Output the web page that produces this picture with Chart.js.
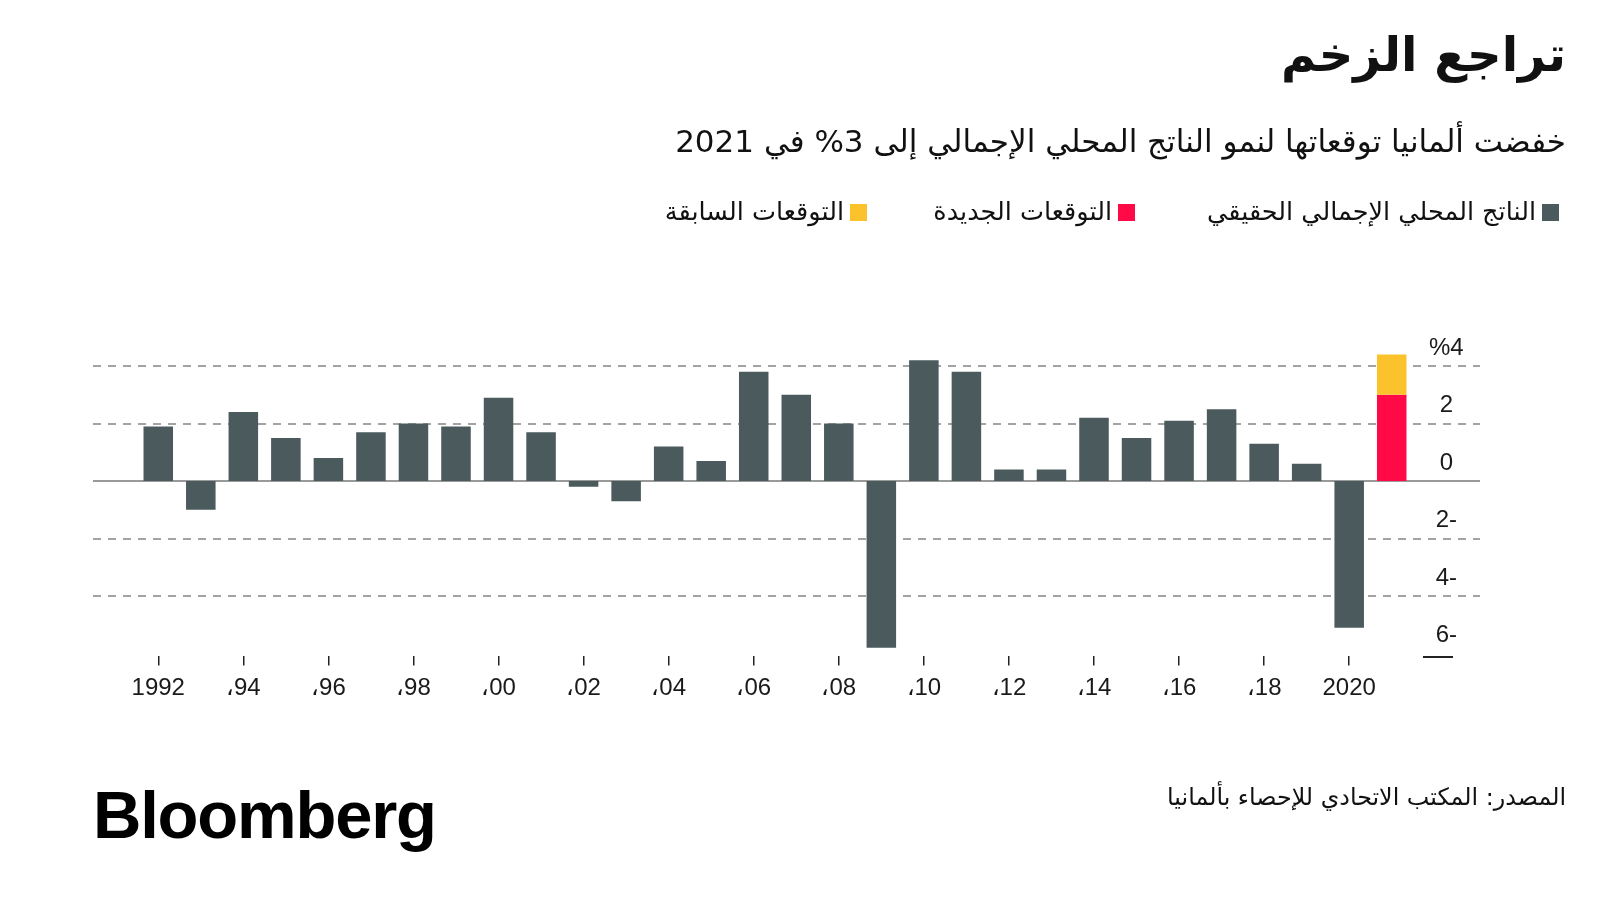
<!DOCTYPE html>
<html lang="ar">
<head>
<meta charset="utf-8">
<script src="https://cdn.jsdelivr.net/npm/chart.js@4.4.1/dist/chart.umd.min.js"></script>
<style>
  html, body { margin:0; padding:0; background:#ffffff; width:1600px; height:900px; overflow:hidden; }
  #wrap { position:absolute; left:0; top:0; width:1600px; height:900px; }
  canvas { position:absolute; left:0; top:0; }
  .ar { position:absolute; direction:rtl; white-space:nowrap; color:#111;
        font-family:"DejaVu Sans","Noto Sans",sans-serif; line-height:1; }
  #title { right:34px; top:30px; font-size:48px; font-weight:bold; }
  #subtitle { right:34px; top:126px; font-size:31px; }
  .leg { position:absolute; top:202px; height:20px; display:flex; flex-direction:row-reverse; align-items:center; }
  .leg .sw { width:17px; height:17px; margin-left:6px; }
  .leg .tx { direction:rtl; white-space:nowrap; color:#111; font-family:"DejaVu Sans","Noto Sans",sans-serif; font-size:25.5px; line-height:1; }
  #source { right:34px; top:786px; font-size:23.8px; }
  #logo { position:absolute; left:93px; top:781px; font-family:"Liberation Sans","Arial",sans-serif;
          font-weight:bold; font-size:67px; letter-spacing:-1.2px; color:#000; line-height:1; }
</style>
</head>
<body>
<div id="wrap">
  <canvas id="c" width="1600" height="900"></canvas>
  <div id="title" class="ar">تراجع الزخم</div>
  <div id="subtitle" class="ar">خفضت ألمانيا توقعاتها لنمو الناتج المحلي الإجمالي إلى 3% في 2021</div>
  <div id="legend"></div>
  <div id="source" class="ar">المصدر: المكتب الاتحادي للإحصاء بألمانيا</div>
  <div id="logo">Bloomberg</div>
</div>
<script>
// ---- Data ----
const years = ['1992','1993','1994','1995','1996','1997','1998','1999','2000','2001',
               '2002','2003','2004','2005','2006','2007','2008','2009','2010','2011',
               '2012','2013','2014','2015','2016','2017','2018','2019','2020','2021'];
const gdpGrowth = [1.9, -1.0, 2.4, 1.5, 0.8, 1.7, 2.0, 1.9, 2.9, 1.7,
                   -0.2, -0.7, 1.2, 0.7, 3.8, 3.0, 2.0, -5.8, 4.2, 3.8,
                   0.4, 0.4, 2.2, 1.5, 2.1, 2.5, 1.3, 0.6, -5.1, null];
const forecastYear = '2021';
const newForecast = 3.0;
const previousForecast = 4.4;
const xTickLabels = ['1992','','،94','','،96','','،98','','،00','',
                     '،02','','،04','','،06','','،08','','،10','',
                     '،12','','،14','','،16','','،18','','2020',''];
const yTickValues = [-6, -4, -2, 0, 2, 4];
const yTickLabels = ['6-', '4-', '2-', '0', '2', '%4'];
const gridValues = [-4, -2, 2, 4];
const seriesLabels = ['الناتج المحلي الإجمالي الحقيقي', 'التوقعات الجديدة', 'التوقعات السابقة'];
const seriesColors = ['#4b5a5d', '#ff0a47', '#fbc22b'];

// ---- Legend (HTML) ----
const legendRights = [41, 465, 733];
const legend = document.getElementById('legend');
seriesLabels.forEach((lab, i) => {
  const d = document.createElement('div');
  d.className = 'leg';
  d.style.right = legendRights[i] + 'px';
  d.innerHTML = '<div class="sw" style="background:' + seriesColors[i] + '"></div><div class="tx">' + lab + '</div>';
  legend.appendChild(d);
});

// ---- Plugins ----
const gridPlugin = {
  id: 'gridExt',
  beforeDatasetsDraw(chart) {
    const { ctx, chartArea } = chart;
    const y = chart.scales.y;
    const x0 = chartArea.left - 44, x1 = chartArea.right + 67;
    ctx.save();
    ctx.lineWidth = 2;
    ctx.strokeStyle = '#a3a3a3';
    ctx.setLineDash([8, 7]);
    gridValues.forEach(v => {
      const py = Math.round(y.getPixelForValue(v));
      ctx.beginPath(); ctx.moveTo(x0, py); ctx.lineTo(x1, py); ctx.stroke();
    });
    ctx.setLineDash([]);
    ctx.strokeStyle = '#9a9a9a';
    const pz = Math.round(y.getPixelForValue(0));
    ctx.beginPath(); ctx.moveTo(x0, pz); ctx.lineTo(x1, pz); ctx.stroke();
    ctx.restore();
  },
  afterDraw(chart) {
    const { ctx, chartArea } = chart;
    const y = chart.scales.y;
    const py = Math.round(y.getPixelForValue(yTickValues[0])) + 3;
    ctx.save();
    ctx.strokeStyle = '#222';
    ctx.lineWidth = 2;
    ctx.beginPath(); ctx.moveTo(chartArea.right + 10, py); ctx.lineTo(chartArea.right + 40, py); ctx.stroke();
    ctx.restore();
  }
};

// ---- Chart ----
const barPct = 0.694;
new Chart(document.getElementById('c'), {
  type: 'bar',
  data: {
    labels: years,
    datasets: [
      { label: seriesLabels[0], data: gdpGrowth, backgroundColor: seriesColors[0],
        grouped: false, barPercentage: barPct, categoryPercentage: 1, order: 3 },
      { label: seriesLabels[1], data: [{ x: forecastYear, y: newForecast }], backgroundColor: seriesColors[1],
        grouped: false, barPercentage: barPct, categoryPercentage: 1, order: 2 },
      { label: seriesLabels[2], data: [{ x: forecastYear, y: [newForecast, previousForecast] }], backgroundColor: seriesColors[2],
        grouped: false, barPercentage: barPct, categoryPercentage: 1, order: 1 }
    ]
  },
  options: {
    responsive: false,
    devicePixelRatio: 1,
    animation: false,
    layout: { padding: { left: 137, top: 348.75, right: 87, bottom: 183.6 } },
    plugins: { legend: { display: false }, tooltip: { enabled: false }, title: { display: false } },
    scales: {
      x: {
        type: 'category',
        offset: true,
        border: { display: false },
        grid: {
          offset: false, drawOnChartArea: false, drawTicks: true, tickLength: 9, lineWidth: 1.5,
          color: (ctx) => (xTickLabels[ctx.index] ? '#222' : 'rgba(0,0,0,0)')
        },
        ticks: {
          autoSkip: false, maxRotation: 0, minRotation: 0, padding: 9, color: '#1a1a1a',
          font: { family: '"Liberation Sans", Arial, sans-serif', size: 24 },
          callback: (val, idx) => xTickLabels[idx]
        },
        afterFit: (s) => { s.height = 60; }
      },
      y: {
        position: 'right',
        min: -6.1, max: 4.6,
        border: { display: false },
        grid: { display: false, drawTicks: false },
        afterBuildTicks: (s) => { s.ticks = yTickValues.map(v => ({ value: v })); },
        ticks: {
          padding: 16, crossAlign: 'center', labelOffset: -18, color: '#1a1a1a',
          font: { family: '"Liberation Sans", Arial, sans-serif', size: 24 },
          callback: (val) => { const i = yTickValues.indexOf(val); return i >= 0 ? yTickLabels[i] : ''; }
        },
        afterFit: (s) => { s.width = 100; }
      }
    }
  },
  plugins: [gridPlugin]
});
</script>
</body>
</html>
